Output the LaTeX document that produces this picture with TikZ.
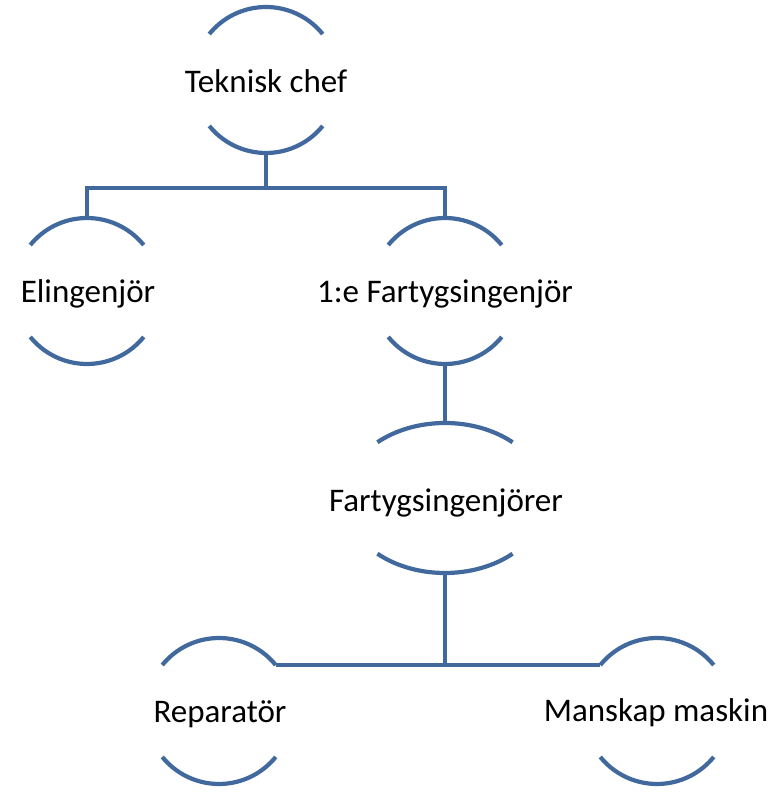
\documentclass[tikz,border=0pt]{standalone}
\usepackage{fontspec}
\setmainfont{Carlito}
\definecolor{linecol}{HTML}{41699E}
\tikzset{
  arcline/.style={draw=linecol, line width=4.2pt},
  conn/.style={draw=linecol, line width=4.2pt},
  lbl/.style={anchor=base, inner sep=0pt, font=\fontsize{33}{40}\selectfont, text=black}
}
\newcommand\capcup[6]{%
  \coordinate (#1) at (#2pt,#3pt);
  \coordinate (#1T) at ([yshift=#5pt]#1);
  \coordinate (#1B) at ([yshift=-#5pt]#1);
  \coordinate (#1NE) at ([shift={(#6:#4pt and #5pt)}]#1);
  \coordinate (#1NW) at ([shift={(180-#6:#4pt and #5pt)}]#1);
  \draw[arcline] (#1NE) arc[start angle=#6, end angle=180-#6, x radius=#4pt, y radius=#5pt];
  \draw[arcline] ([shift={(180+#6:#4pt and #5pt)}]#1) arc[start angle=180+#6, end angle=360-#6, x radius=#4pt, y radius=#5pt];
}
\begin{document}
\begin{tikzpicture}
\useasboundingbox (0pt,0pt) rectangle (768pt,792pt);
% shapes
\capcup{tek}{266}{712}{73}{73}{39}
\capcup{elin}{87}{501}{73}{73}{39}
\capcup{first}{445}{501}{73}{73}{39}
\capcup{fart}{445}{294}{101}{75}{48}
\capcup{rep}{219}{81}{73}{73}{39}
\capcup{mans}{657}{81}{73}{73}{39}
% labels
\node[lbl] (tekL) at (266pt,699pt) {Teknisk chef};
\node[lbl] (elinL) at (88pt,489pt) {Elingenjör};
\node[lbl] (firstL) at (445pt,489pt) {1:e Fartygsingenjör};
\node[lbl] (fartL) at (446pt,280pt) {Fartygsingenjörer};
\node[lbl] (repL) at (220pt,69pt) {Reparatör};
\node[lbl] (mansL) at (656pt,70pt) {Manskap maskin};
% connectors
\draw[conn] (tekB) -- ++(0,-35pt) -| (elinT);
\draw[conn] (tekB) -- ++(0,-35pt) -| (firstT);
\draw[conn] (firstB) -- (fartT);
\draw[conn] (fartB) |- (repNE);
\draw[conn] (fartB) |- (mansNW);
\end{tikzpicture}
\end{document}
